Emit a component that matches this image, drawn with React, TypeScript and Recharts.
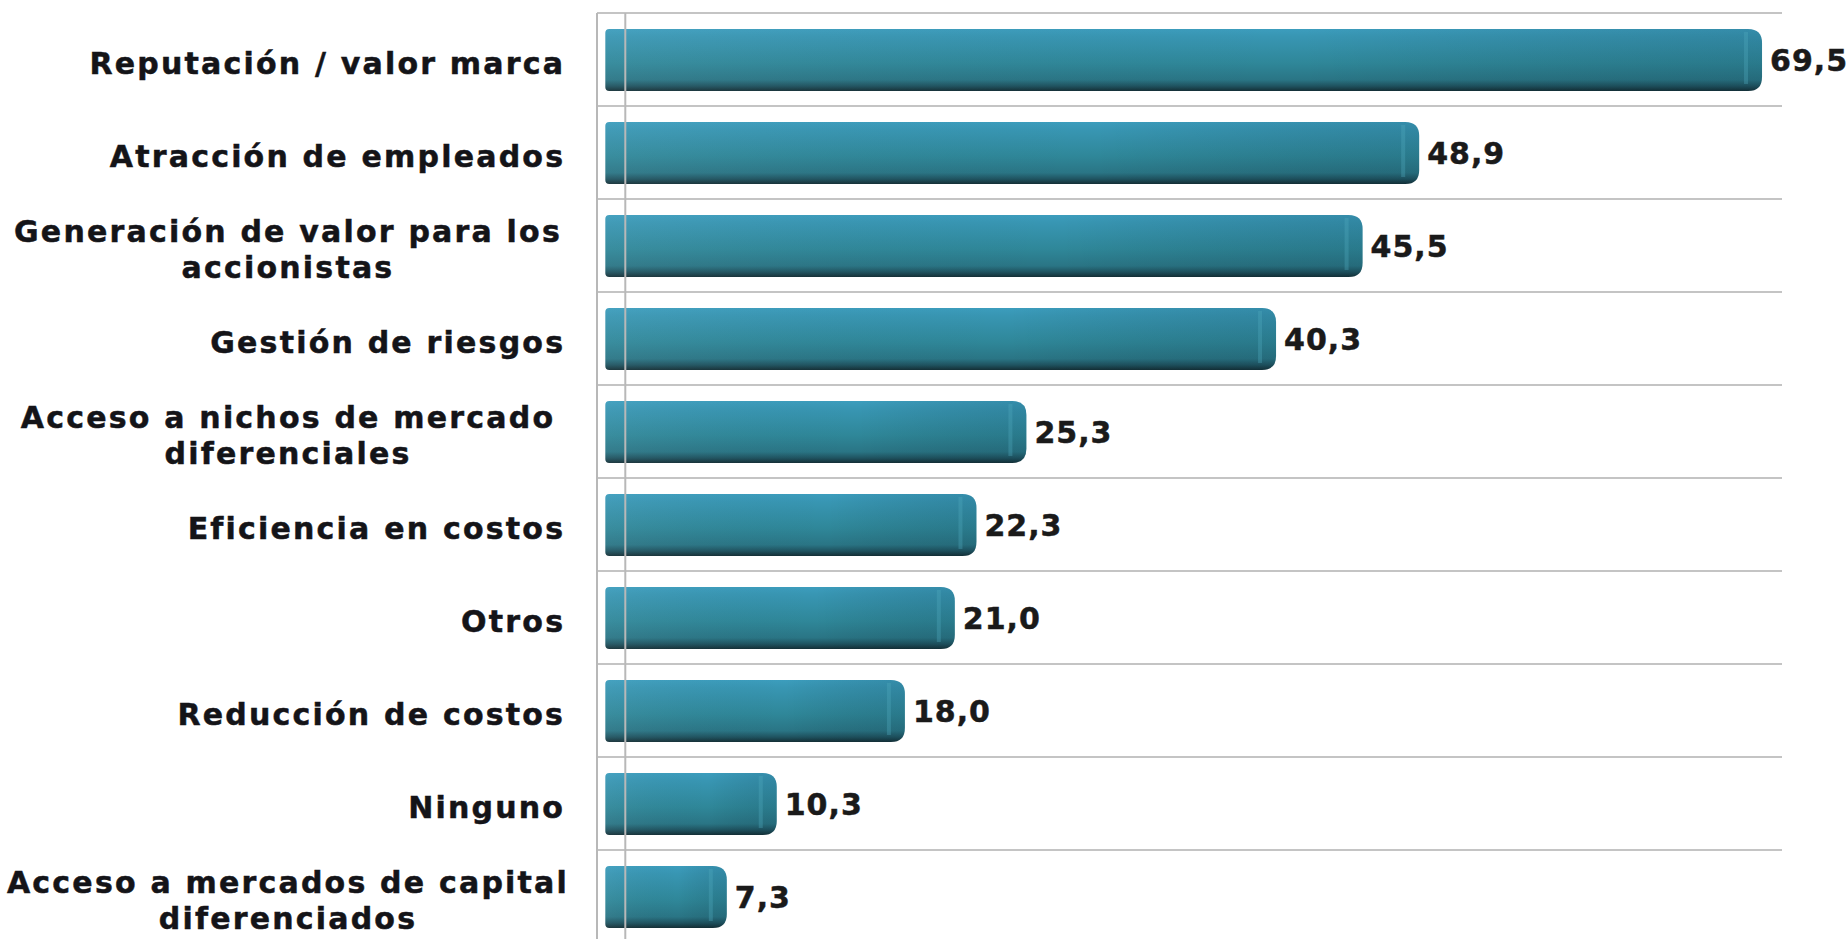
import React from 'react';
import { BarChart, Bar, XAxis, YAxis, CartesianGrid, LabelList, ReferenceLine } from 'recharts';

const categories: string[] = [
  'Reputación / valor marca',
  'Atracción de empleados',
  'Generación de valor para los \naccionistas',
  'Gestión de riesgos',
  'Acceso a nichos de mercado \ndiferenciales',
  'Eficiencia en costos',
  'Otros',
  'Reducción de costos',
  'Ninguno',
  'Acceso a mercados de capital\ndiferenciados',
];

const values: number[] = [69.5, 48.9, 45.5, 40.3, 25.3, 22.3, 21.0, 18.0, 10.3, 7.3];

const data = categories.map((name, i) => ({ name, value: values[i] }));

const FONT = '"DejaVu Sans", Verdana, sans-serif';
const FS = 30;
const LS = 2.2;

const CategoryTick = (props: any) => {
  const { x, y, payload } = props;
  const lines: string[] = String(payload.value).split('\n');
  const common = {
    fontFamily: FONT,
    fontWeight: 'bold' as const,
    fontSize: FS,
    fill: '#141418',
    stroke: '#141418',
    strokeWidth: 0.5,
    letterSpacing: LS,
    dominantBaseline: 'central' as const,
  };
  if (lines.length === 1) {
    return (
      <text x={x + LS} y={y + 4} textAnchor="end" {...common}>
        {lines[0]}
      </text>
    );
  }
  const cx = x - 275;
  const lh = 36;
  return (
    <g>
      {lines.map((l, i) => (
        <text key={i} x={cx} y={y + 4 + (i - (lines.length - 1) / 2) * lh} textAnchor="middle" {...common}>
          {l.trim()}
        </text>
      ))}
    </g>
  );
};

const BarShape = (props: any) => {
  const { x, y, width, height } = props;
  if (!width || width <= 0) return null;
  const r = Math.min(14, width / 2);
  const rl = 4;
  const path = `M${x + rl},${y} L${x + width - r},${y} Q${x + width},${y} ${x + width},${y + r} L${x + width},${y + height - r} Q${x + width},${y + height} ${x + width - r},${y + height} L${x + rl},${y + height} Q${x},${y + height} ${x},${y + height - rl} L${x},${y + rl} Q${x},${y} ${x + rl},${y} Z`;
  return (
    <g>
      <path d={path} fill="url(#barGrad)" />
      <path d={path} fill="url(#barGradH)" />
      <rect x={x + width - r - 4} y={y + 3} width={4} height={height - 10} fill="#4fa9be" opacity={0.35} />
    </g>
  );
};

export default function App() {
  return (
    <div style={{ position: 'absolute', left: 0, top: 0, background: '#fff' }}>
      <BarChart
        width={1847}
        height={950}
        data={data}
        layout="vertical"
        margin={{ top: 13, right: 65, bottom: 7, left: 0 }}
        barSize={62}
      >
        <defs>
          <linearGradient id="barGrad" x1="0" y1="0" x2="0" y2="1">
            <stop offset="0%" stopColor="#3c9dbd" />
            <stop offset="12%" stopColor="#3896b3" />
            <stop offset="55%" stopColor="#2f8799" />
            <stop offset="82%" stopColor="#2a7585" />
            <stop offset="92%" stopColor="#1f5360" />
            <stop offset="100%" stopColor="#142f36" />
          </linearGradient>
          <linearGradient id="barGradH" x1="0" y1="0" x2="1" y2="0">
            <stop offset="0%" stopColor="#ffffff" stopOpacity={0.05} />
            <stop offset="60%" stopColor="#000000" stopOpacity={0} />
            <stop offset="100%" stopColor="#0a3040" stopOpacity={0.15} />
          </linearGradient>
        </defs>
        <CartesianGrid
          vertical={false}
          stroke="#c4c4c4"
          strokeWidth={2}
          horizontalCoordinatesGenerator={({ offset }: any) =>
            categories.map((_, i) => offset.top + (i * offset.height) / categories.length).concat([offset.top + offset.height])
          }
        />
        <XAxis type="number" domain={[-0.5, 70.7]} hide allowDataOverflow />
        <YAxis
          type="category"
          dataKey="name"
          width={597}
          axisLine={{ stroke: '#b8b8b8', strokeWidth: 2 }}
          tickLine={false}
          tickSize={0}
          tickMargin={34}
          tick={<CategoryTick />}
          interval={0}
        />
        <ReferenceLine x={1.2} stroke="#b8b8b8" strokeWidth={2} />
        <Bar dataKey="value" isAnimationActive={false} shape={<BarShape />}>
          <LabelList
            dataKey="value"
            position="right"
            offset={8}
            formatter={(v: any) => Number(v).toFixed(1).replace('.', ',')}
            style={{ fontFamily: FONT, fontWeight: 'bold', fontSize: FS, fill: '#1a1a1a', stroke: '#1a1a1a', strokeWidth: 0.5, letterSpacing: 1 }}
          />
        </Bar>
      </BarChart>
    </div>
  );
}
